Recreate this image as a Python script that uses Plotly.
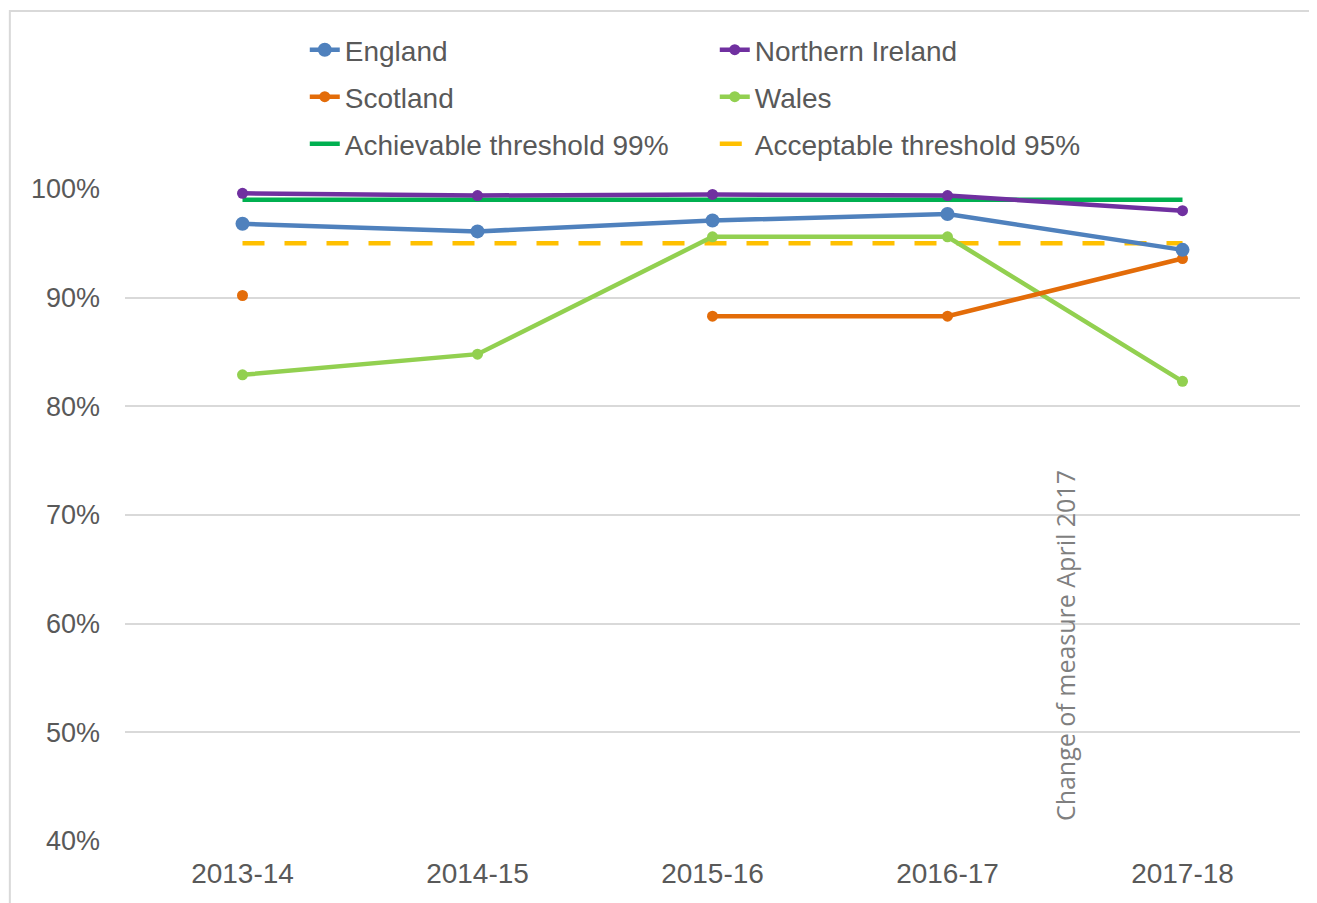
import plotly.graph_objects as go

years = ["2013-14", "2014-15", "2015-16", "2016-17", "2017-18"]
england = [96.8, 96.1, 97.1, 97.7, 94.4]
northern_ireland = [99.6, 99.4, 99.5, 99.4, 98.0]
scotland = [90.2, None, 88.3, 88.3, 93.6]
wales = [82.9, 84.8, 95.6, 95.6, 82.3]
achievable = [99, 99, 99, 99, 99]
acceptable = [95, 95, 95, 95, 95]
annotation_text = "Change of measure April 2017"

fig = go.Figure()

def series(name, y, color, msize, legend):
    return go.Scatter(
        x=years, y=y, name=name, mode="lines+markers",
        line=dict(color=color, width=4.5),
        marker=dict(color=color, size=msize),
        connectgaps=False, cliponaxis=False, legend=legend,
    )

tr_eng = series("England", england, "#4F81BD", 14, "legend")
tr_ni = series("Northern Ireland", northern_ireland, "#7030A0", 11, "legend")
tr_sco = series("Scotland", scotland, "#E36C09", 11, "legend2")
tr_wal = series("Wales", wales, "#92D050", 11, "legend2")
tr_ach = go.Scatter(x=years, y=achievable, name="Achievable threshold 99%",
                    mode="lines", line=dict(color="#00B050", width=4.5), legend="legend3")
tr_acc = go.Scatter(x=years, y=acceptable, name="Acceptable threshold 95%",
                    mode="lines", line=dict(color="#FFC000", width=4.5, dash="22px,20px"),
                    legend="legend3")

# drawing order: thresholds first, NI on top of achievable line
for tr in [tr_ach, tr_acc, tr_wal, tr_sco, tr_eng, tr_ni]:
    fig.add_trace(tr)

order = ["England", "Northern Ireland", "Scotland", "Wales",
         "Achievable threshold 99%", "Acceptable threshold 95%"]
for tr in fig.data:
    tr.legendrank = order.index(tr.name) + 1

fig.add_annotation(x=3.5, y=41.6, xref="x", yref="y", text=annotation_text,
                   textangle=-90, showarrow=False, xanchor="center", yanchor="bottom",
                   font=dict(family="Open Sans", size=25, color="#7F7F7F"))

fig.add_shape(type="rect", xref="paper", yref="paper", x0=-0.098, x1=1.05, y0=-0.2, y1=1.273,
              line=dict(color="#D9D9D9", width=2), fillcolor="rgba(0,0,0,0)", layer="below")

def leg(y):
    return dict(
        orientation="h", x=0.153, xanchor="left", y=y, yanchor="middle",
        entrywidth=365, entrywidthmode="pixels",
        font=dict(family="Liberation Sans, Arial", size=28, color="#595959"),
        bgcolor="rgba(0,0,0,0)", traceorder="normal",
    )

fig.update_layout(
    width=1309, height=895,
    margin=dict(l=117, r=17, t=181, b=62),
    paper_bgcolor="white", plot_bgcolor="white",
    font=dict(family="Liberation Sans, Arial", size=27, color="#595959"),
    showlegend=True,
    legend=leg(1.2132),
    legend2=leg(1.1411),
    legend3=leg(1.069),
    xaxis=dict(
        type="category", categoryorder="array", categoryarray=years,
        range=[-0.5, 4.5], showgrid=False, showline=False, zeroline=False,
        ticks="", tickfont=dict(size=28, color="#595959"), ticklabelstandoff=13,
    ),
    yaxis=dict(
        range=[40, 100], dtick=10, ticksuffix="%", showgrid=True,
        gridcolor="#D9D9D9", gridwidth=1.5, zeroline=False, showline=False,
        ticks="", tickfont=dict(size=27, color="#595959"), ticklabelstandoff=24,
    ),
)

fig.write_html("out.html")
